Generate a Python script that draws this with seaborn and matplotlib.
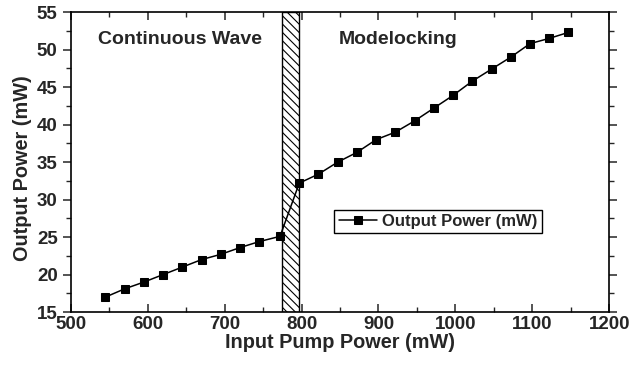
import matplotlib
matplotlib.use('Agg')
import matplotlib.pyplot as plt
import seaborn as sns
import pandas as pd

# data
pump_power = [545, 570, 595, 620, 645, 670, 695, 720, 745, 772,
              797, 822, 847, 872, 897, 922, 947, 972, 997, 1022,
              1047, 1072, 1097, 1122, 1147]
output_power = [17.0, 18.1, 19.0, 20.0, 21.0, 22.0, 22.7, 23.6, 24.4, 25.1,
                32.2, 33.4, 35.0, 36.3, 38.0, 39.0, 40.5, 42.2, 43.9, 45.8,
                47.4, 49.0, 50.8, 51.5, 52.3]
transition = [774, 797]
series_label = "Output Power (mW)"

df = pd.DataFrame({"pump": pump_power, "out": output_power})

sns.set_style("ticks")
plt.rcParams['font.family'] = ['Liberation Sans', 'DejaVu Sans']
plt.rcParams['font.weight'] = 'bold'
plt.rcParams['hatch.linewidth'] = 0.8

fig = plt.figure(figsize=(6.44, 3.68), dpi=100)
ax = fig.add_axes([0.110, 0.152, 0.836, 0.815])

# hatched transition region
ax.axvspan(transition[0], transition[1], facecolor='white', edgecolor='black',
           hatch='\\\\\\\\', linewidth=1.0, zorder=1)

sns.lineplot(data=df, x="pump", y="out", ax=ax, color='black', linewidth=1.1,
             marker='s', markersize=6, markeredgecolor='black',
             label=series_label, zorder=3)

ax.set_xlim(500, 1200)
ax.set_ylim(15, 55)
ax.set_xticks(range(500, 1201, 100))
ax.set_xticks(range(550, 1200, 100), minor=True)
ax.set_yticks(range(15, 56, 5))
ax.set_yticks([17.5 + 5 * i for i in range(8)], minor=True)

for side in ['top', 'right', 'bottom', 'left']:
    ax.spines[side].set_visible(True)
    ax.spines[side].set_linewidth(1.2)
    ax.spines[side].set_color('black')

ax.tick_params(axis='x', which='both', direction='in', top=True, labelsize=13.5, pad=3)
ax.tick_params(axis='y', which='both', direction='out', labelsize=13.5)
ax.tick_params(which='major', length=6, width=1.1)
ax.tick_params(which='minor', length=3.5, width=1.0)
ax.tick_params(axis='y', which='both', right=True)
for lbl in ax.get_xticklabels() + ax.get_yticklabels():
    lbl.set_fontweight('bold')

ax.set_xlabel("Input Pump Power (mW)", fontsize=14.3, fontweight='bold', labelpad=0)
ax.set_ylabel("Output Power (mW)", fontsize=14.3, fontweight='bold')
ax.yaxis.set_label_coords(-0.072, 0.48)

ax.text(642, 51.3, "Continuous Wave", fontsize=14, fontweight='bold',
        ha='center', va='center')
ax.text(848, 51.3, "Modelocking", fontsize=14, fontweight='bold',
        ha='left', va='center')

leg = ax.legend(loc='center', bbox_to_anchor=(0.682, 0.303), fancybox=False,
                edgecolor='black', framealpha=1, fontsize=12, handlelength=2.3,
                borderpad=0.25, handletextpad=0.3, borderaxespad=0)
leg.get_frame().set_linewidth(1.0)
for t in leg.get_texts():
    t.set_fontweight('bold')

fig.savefig("out.png", dpi=100)
plt.close(fig)
